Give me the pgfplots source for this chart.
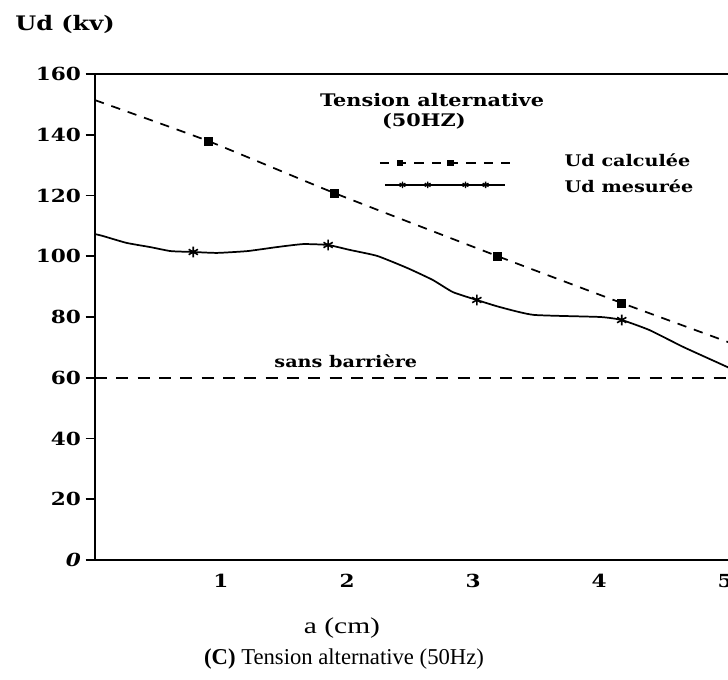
\documentclass[border=0pt]{standalone}
\usepackage{fontspec}
\setmainfont{Liberation Serif}
\newfontfamily\blk{DejaVu Serif}[FakeStretch=1.2]
\usepackage{pgfplots}
\pgfplotsset{compat=1.18}
\begin{document}
\begin{tikzpicture}
\useasboundingbox (0,0) rectangle (546pt,509.25pt);
\clip (0,0) rectangle (546pt,509.25pt);
\begin{axis}[
  at={(71.25pt,89.25pt)}, anchor=south west,
  scale only axis, width=482pt, height=364.5pt,
  xmin=0, xmax=5.1, ymin=0, ymax=160,
  axis line style={line width=1.4pt},
  xtick={1,2,3,4,5}, xticklabels={1,2,3,4,5},
  ytick={0,20,40,60,80,100,120,140,160},
  yticklabels={\itshape 0,20,40,60,80,100,120,140,160},
  xtick style={draw=none},
  ytick style={line width=1.4pt, black},
  ytick pos=left,
  tick align=outside, major tick length=7pt,
  tick label style={font=\blk\bfseries\fontsize{13.5}{13.5}\selectfont},
  clip=false,
]
% calculated (dashed)
\addplot[black, line width=1.3pt, dash pattern=on 7pt off 6pt, smooth, tension=0.3] coordinates {
 (0,151.4) (0.9,137.9) (1.9,120.8) (3.19,100.1) (4.18,84.6) (5.1,70.6)};
\addplot[black, only marks, mark=square*, mark size=3pt] coordinates {
 (0.9,137.9) (1.9,120.8) (3.19,100.1) (4.18,84.6)};
% measured (solid)
\addplot[black, line width=1.3pt, smooth, tension=0.3] coordinates {
 (0,107.3) (0.06,106.7) (0.25,104.4) (0.44,103) (0.6,101.7) (0.78,101.4)
 (0.97,101.1) (1.21,101.7) (1.44,103) (1.65,104) (1.85,103.7) (2.02,102.1)
 (2.24,100.1) (2.48,96.1) (2.68,92.2) (2.84,88.2) (3.03,85.6) (3.21,83.3)
 (3.48,80.7) (4.01,80) (4.18,79) (4.4,75.7) (4.67,70.1) (5.02,63.5) (5.1,61.8)};
\addplot[black, only marks, mark=asterisk, mark size=4pt, mark options={line width=1.2pt}] coordinates {
 (0.78,101.4) (1.85,103.7) (3.03,85.6) (4.18,79)};
% sans barriere
\addplot[black, line width=1.3pt, dash pattern=on 9pt off 7pt] coordinates {(0,60) (5.1,60)};
% legend samples
\addplot[black, line width=1.3pt, dash pattern=on 7pt off 6pt] coordinates {(2.26,130.7) (3.29,130.7)};
\addplot[black, only marks, mark=square*, mark size=2pt] coordinates {(2.42,130.7) (2.82,130.7)};
\addplot[black, line width=1.3pt] coordinates {(2.30,123.5) (3.25,123.5)};
\addplot[black, only marks, mark=asterisk, mark size=2.5pt, mark options={line width=1pt}] coordinates {(2.44,123.5) (2.64,123.5) (2.94,123.5) (3.10,123.5)};
\node[font=\blk\bfseries\fontsize{13}{13}\selectfont] at (axis cs:2.675,151.4) {Tension alternative};
\node[font=\blk\bfseries\fontsize{13}{13}\selectfont] at (axis cs:2.61,144.5) {(50HZ)};
\node[anchor=west, font=\blk\bfseries\fontsize{12}{12}\selectfont] at (axis cs:3.69,131.7) {Ud calculée};
\node[anchor=west, font=\blk\bfseries\fontsize{12}{12}\selectfont] at (axis cs:3.69,123.1) {Ud mesurée};
\node[font=\blk\bfseries\fontsize{12}{12}\selectfont] at (axis cs:1.99,65.5) {sans barrière};
\end{axis}
\node[font=\blk\bfseries\fontsize{15}{15}\selectfont] at (48.75pt,491pt) {Ud (kv)};
\node[font=\fontsize{17}{18}\selectfont] at (256.5pt,38.5pt) {\scalebox{1.3}[1]{a (cm)}};
\node[font=\fontsize{17}{18}\selectfont] at (258pt,15pt) {\textbf{(C)} Tension alternative (50Hz)};
\end{tikzpicture}
\end{document}
